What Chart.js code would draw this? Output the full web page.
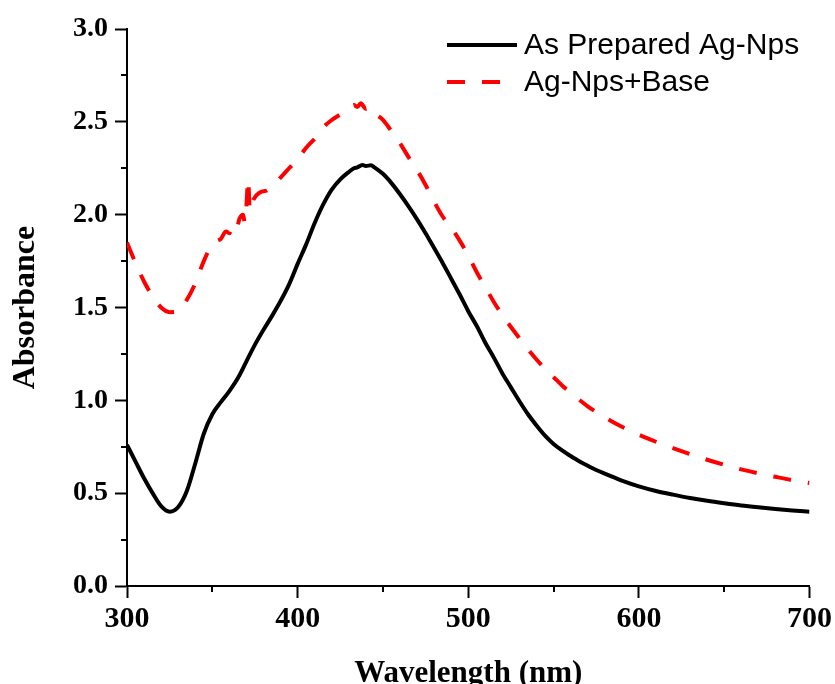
<!DOCTYPE html>
<html>
<head>
<meta charset="utf-8">
<script src="https://cdn.jsdelivr.net/npm/chart.js@4/dist/chart.umd.min.js"></script>
<style>
  html, body { margin: 0; padding: 0; background: #ffffff; }
  #wrap { width: 835px; height: 684px; position: relative; }
</style>
</head>
<body>
<div id="wrap"><canvas id="c" width="835" height="684"></canvas></div>
<script>
// ---- Data ----
const seriesNames = ["As Prepared Ag-Nps", "Ag-Nps+Base"];

const wavelengthAsPrepared = [300,305,310,315,320,325,330,335,340,345,350,355,360,365,370,375,380,385,390,395,
  400,405,410,415,420,425,430,433,435,438,440,443,445,450,455,460,465,470,475,480,485,490,495,
  500,505,510,515,520,525,530,535,540,545,550,555,560,565,570,575,580,590,600,610,620,630,640,650,660,670,680,690,700];
const absorbanceAsPrepared = [0.76,0.67,0.58,0.50,0.43,0.40,0.425,0.51,0.66,0.82,0.925,0.99,1.05,1.12,1.21,1.30,1.38,1.455,1.535,1.625,
  1.735,1.84,1.955,2.055,2.135,2.19,2.23,2.25,2.255,2.268,2.262,2.266,2.255,2.22,2.17,2.11,2.045,1.975,1.90,1.82,1.74,1.655,1.57,
  1.48,1.40,1.31,1.23,1.145,1.07,0.995,0.925,0.865,0.81,0.765,0.73,0.70,0.672,0.648,0.625,0.605,0.568,0.537,0.512,0.492,0.474,0.459,0.446,0.434,0.424,0.415,0.407,0.40];

const wavelengthBase = [300,305,310,315,320,325,330,335,340,345,350,353,355,358,360,362,364,366,368,369,370,371,372,374,378,382,386,390,395,
  400,405,410,415,420,425,430,433,435,437,440,443,445,450,455,460,465,470,475,480,485,490,495,
  500,505,510,515,520,525,530,535,540,545,550,555,560,565,570,575,580,585,590,600,610,620,630,640,650,660,670,680,690,700];
const absorbanceBase = [1.85,1.74,1.64,1.56,1.50,1.475,1.48,1.54,1.63,1.75,1.84,1.86,1.87,1.91,1.90,1.94,1.92,1.98,2.00,1.96,2.05,2.19,2.02,2.08,2.12,2.13,2.16,2.20,2.25,
  2.30,2.36,2.41,2.47,2.51,2.54,2.57,2.59,2.58,2.60,2.57,2.58,2.55,2.51,2.45,2.385,2.31,2.24,2.16,2.07,1.99,1.93,1.86,
  1.78,1.69,1.61,1.53,1.46,1.395,1.335,1.275,1.22,1.17,1.125,1.08,1.04,1.003,0.968,0.937,0.908,0.882,0.858,0.815,0.777,0.742,0.71,0.68,0.653,0.628,0.607,0.588,0.57,0.555];

const xTickValues = [300, 400, 500, 600, 700];
const xMinorTicks = [350, 450, 550, 650];
const yTickValues = [0.0, 0.5, 1.0, 1.5, 2.0, 2.5, 3.0];
const yMinorTicks = [0.25, 0.75, 1.25, 1.75, 2.25, 2.75];
const xAxisTitle = "Wavelength (nm)";
const yAxisTitle = "Absorbance";

// ---- Build chart ----
const toPoints = (xs, ys) => xs.map((x, i) => ({ x: x, y: ys[i] }));
const SERIF = "'Liberation Serif', 'Times New Roman', serif";
const SANS = "'Liberation Sans', Arial, sans-serif";
const RED_DASH = [18, 17];

const minorTicksPlugin = {
  id: 'minorTicks',
  afterDraw(chart) {
    const ctx = chart.ctx;
    const xs = chart.scales.x, ys = chart.scales.y;
    const area = chart.chartArea;
    ctx.save();
    ctx.strokeStyle = '#000';
    ctx.lineWidth = 2;
    ctx.beginPath();
    xMinorTicks.forEach(v => {
      const px = Math.round(xs.getPixelForValue(v));
      ctx.moveTo(px, area.bottom);
      ctx.lineTo(px, area.bottom + 6);
    });
    yMinorTicks.forEach(v => {
      const py = Math.round(ys.getPixelForValue(v));
      ctx.moveTo(area.left, py);
      ctx.lineTo(area.left - 6, py);
    });
    ctx.stroke();
    ctx.restore();
  }
};

const legendPlugin = {
  id: 'insideLegend',
  afterDraw(chart) {
    const ctx = chart.ctx;
    const area = chart.chartArea;
    const x0 = area.left + 320, x1 = x0 + 70, tx = x1 + 7;
    const rows = [area.top + 16, area.top + 53];
    ctx.save();
    ctx.font = "30px " + SANS;
    ctx.textBaseline = 'middle';
    ctx.textAlign = 'left';
    chart.data.datasets.forEach((ds, i) => {
      const y = rows[i];
      ctx.strokeStyle = ds.borderColor;
      ctx.lineWidth = ds.borderWidth;
      ctx.setLineDash(ds.borderDash || []);
      ctx.lineCap = 'butt';
      ctx.beginPath();
      ctx.moveTo(x0, y);
      ctx.lineTo(x1, y);
      ctx.stroke();
      ctx.setLineDash([]);
      ctx.fillStyle = '#000';
      ctx.fillText(ds.label, tx, y + 1);
    });
    ctx.restore();
  }
};

new Chart(document.getElementById('c'), {
  type: 'line',
  data: {
    datasets: [
      {
        label: seriesNames[0],
        data: toPoints(wavelengthAsPrepared, absorbanceAsPrepared),
        borderColor: '#000000',
        borderWidth: 4,
        pointRadius: 0,
        fill: false,
        cubicInterpolationMode: 'monotone'
      },
      {
        label: seriesNames[1],
        data: toPoints(wavelengthBase, absorbanceBase),
        borderColor: '#ff0000',
        borderWidth: 4,
        borderDash: RED_DASH,
        borderCapStyle: 'butt',
        pointRadius: 0,
        fill: false,
        cubicInterpolationMode: 'monotone',
        // segment option makes Chart.js stroke the path directly (no cached Path2D)
        segment: { borderDash: () => RED_DASH }
      }
    ]
  },
  options: {
    responsive: false,
    animation: false,
    devicePixelRatio: 1,
    layout: { padding: { left: 0, right: 24, top: 29, bottom: 0 } },
    plugins: {
      legend: { display: false },
      tooltip: { enabled: false },
      title: { display: false }
    },
    scales: {
      x: {
        type: 'linear',
        min: 300,
        max: 700,
        afterFit(scale) { scale.height = 98; },
        afterBuildTicks(scale) { scale.ticks = xTickValues.map(v => ({ value: v })); },
        ticks: {
          color: '#000',
          font: { family: SERIF, size: 30, weight: 'bold' },
          padding: 3,
          maxRotation: 0,
          autoSkip: false,
          callback: v => String(v)
        },
        grid: { drawOnChartArea: false, drawTicks: true, tickLength: 12, tickColor: '#000', tickWidth: 2 },
        border: { display: true, color: '#000', width: 2 },
        title: {
          display: true,
          text: xAxisTitle,
          color: '#000',
          font: { family: SERIF, size: 31, weight: 'bold', lineHeight: 1 },
          padding: { top: 0, bottom: -5 }
        }
      },
      y: {
        type: 'linear',
        min: 0,
        max: 3,
        afterFit(scale) { scale.width = 127; },
        afterBuildTicks(scale) { scale.ticks = yTickValues.map(v => ({ value: v })); },
        ticks: {
          color: '#000',
          font: { family: SERIF, size: 28, weight: 'bold' },
          padding: 7,
          autoSkip: false,
          callback: v => Number(v).toFixed(1)
        },
        grid: { drawOnChartArea: false, drawTicks: true, tickLength: 12, tickColor: '#000', tickWidth: 2 },
        border: { display: true, color: '#000', width: 2 },
        title: {
          display: true,
          text: yAxisTitle,
          color: '#000',
          font: { family: SERIF, size: 32, weight: 'bold', lineHeight: 1.1 },
          padding: { top: 8, bottom: 0 }
        }
      }
    }
  },
  plugins: [minorTicksPlugin, legendPlugin]
});
</script>
</body>
</html>
